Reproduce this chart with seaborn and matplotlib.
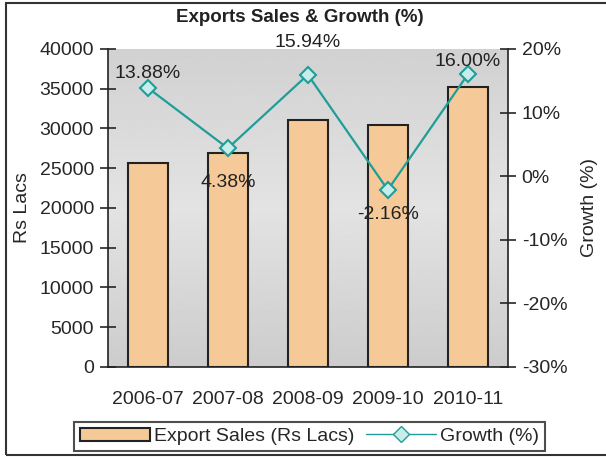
import numpy as np
import matplotlib
matplotlib.use("Agg")
import matplotlib.pyplot as plt
import matplotlib.patches as mpatches
from matplotlib.lines import Line2D
from matplotlib.ticker import FuncFormatter
import seaborn as sns

years = ["2006-07", "2007-08", "2008-09", "2009-10", "2010-11"]
sales = [25600, 26900, 31100, 30400, 35200]
growth = [13.88, 4.38, 15.94, -2.16, 16.00]
label_offsets = [10, -25, 23, -18, 9]

sns.set_style("white")
plt.rcParams['font.family'] = ['Liberation Sans', 'DejaVu Sans']

bar_color = "#f6ca98"
line_color = "#1f9e98"
fs = 14

fig = plt.figure(figsize=(6.06, 4.57), dpi=100)
ax = fig.add_axes([0.178, 0.197, 0.660, 0.696])

# gradient background
grad = np.interp(np.linspace(0, 1, 200), [0, 0.5, 1], [0.80, 0.89, 0.82]).reshape(-1, 1)
ax.imshow(grad, cmap="gray", vmin=0, vmax=1, aspect="auto",
          extent=[-0.5, 4.5, 0, 40000], origin="lower", zorder=0)

sns.barplot(x=years, y=sales, ax=ax, color=bar_color, edgecolor="#222222",
            linewidth=1.5, width=0.5, saturation=1, zorder=2)
ax.set_xlim(-0.5, 4.5)
ax.set_ylim(0, 40000)
ax.set_yticks(range(0, 40001, 5000))
ax.set_ylabel("Rs Lacs", fontsize=fs, labelpad=6)
ax.set_xlabel("")
ax.set_xticks([0, 1, 2, 3, 4])
ax.set_xticklabels(years, fontsize=fs)
ax.set_xticks(np.arange(-0.5, 5, 1), minor=True)
ax.tick_params(axis="x", which="major", length=0, pad=17)
ax.tick_params(axis="x", which="minor", length=8, direction="inout", width=1.2)
ax.tick_params(axis="y", length=12, direction="inout", width=1.2, labelsize=fs, pad=4)
for s in ["top", "right"]:
    ax.spines[s].set_visible(False)
for s in ["left", "bottom"]:
    ax.spines[s].set_color("#222222")
    ax.spines[s].set_linewidth(1.2)

ax2 = ax.twinx()
sns.lineplot(x=[0, 1, 2, 3, 4], y=growth, ax=ax2, color=line_color, linewidth=1.6,
             marker="D", markersize=8, markerfacecolor="#c8ecea",
             markeredgecolor=line_color, markeredgewidth=1.5, zorder=3)
ax2.set_ylim(-30, 20)
ax2.set_yticks(range(-30, 21, 10))
ax2.yaxis.set_major_formatter(FuncFormatter(lambda v, p: f"{v:.0f}%"))
ax2.set_ylabel("Growth (%)", fontsize=fs, labelpad=10)
ax2.tick_params(axis="y", length=12, direction="inout", width=1.2, labelsize=fs, pad=4)
for s in ["top", "left", "bottom"]:
    ax2.spines[s].set_visible(False)
ax2.spines["right"].set_color("#222222")
ax2.spines["right"].set_linewidth(1.2)
ax2.set_xlim(-0.5, 4.5)

for i, (g, off) in enumerate(zip(growth, label_offsets)):
    ax2.annotate(f"{g:.2f}%", (i, g), xytext=(0, off), textcoords="offset points",
                 ha="center", va="center", fontsize=fs, color="#222222")

fig.text(0.495, 0.962, "Exports Sales & Growth (%)", fontsize=13.5,
         fontweight="bold", ha="center", va="center", color="#222222")

handles = [mpatches.Patch(facecolor=bar_color, edgecolor="#222222", linewidth=1.5),
           Line2D([], [], color=line_color, linewidth=1, marker="D", markersize=8,
                  markerfacecolor="#c8ecea", markeredgecolor=line_color)]
leg = fig.legend(handles, ["Export Sales (Rs Lacs)", "Growth (%)"], ncol=2,
                 loc="center", bbox_to_anchor=(0.511, 0.045), fontsize=fs,
                 frameon=True, fancybox=False, edgecolor="#222222",
                 handlelength=3.6, columnspacing=0.6, handletextpad=0.2,
                 borderpad=0.3, borderaxespad=0)
leg.get_frame().set_linewidth(1.5)

fig.patches.append(mpatches.Rectangle((6 / 606, 2 / 457), 1.2, 452 / 457,
                                      transform=fig.transFigure, fill=False,
                                      edgecolor="#333333", linewidth=1.5))

fig.savefig("out.png", dpi=100)
